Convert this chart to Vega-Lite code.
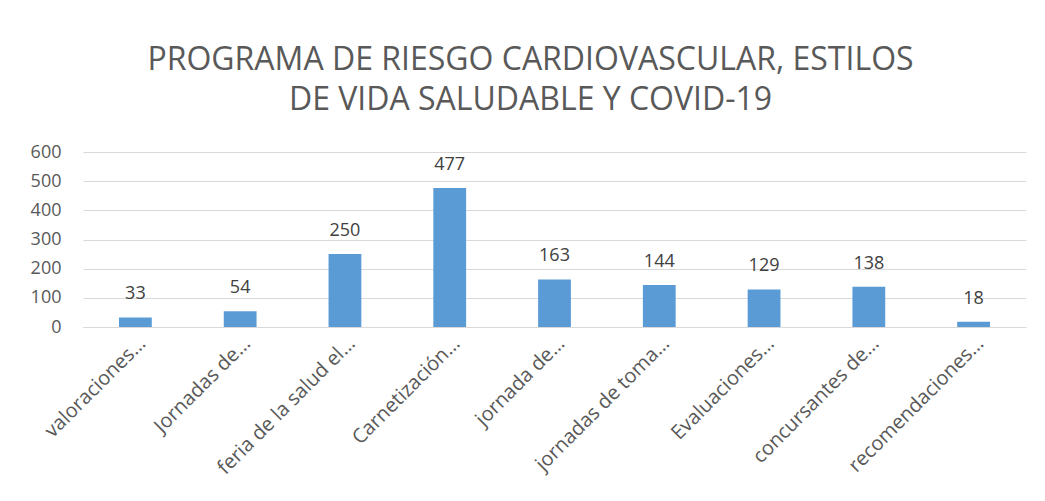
{
  "$schema": "https://vega.github.io/schema/vega-lite/v6.json",
  "width": 943,
  "height": 175,
  "autosize": {"type": "none"},
  "padding": {"left": 83, "top": 152, "right": 19, "bottom": 174},
  "background": "white",
  "title": {
    "text": ["PROGRAMA DE RIESGO CARDIOVASCULAR, ESTILOS", "DE VIDA SALUDABLE Y COVID-19"],
    "font": "Open Sans",
    "fontSize": 32,
    "fontWeight": "normal",
    "color": "#595959",
    "lineHeight": 40,
    "anchor": "middle",
    "dx": -24,
    "offset": 26
  },
  "data": {
    "values": [
      {"actividad": "valoraciones…", "valor": 33},
      {"actividad": "Jornadas de…", "valor": 54},
      {"actividad": "feria de la salud el…", "valor": 250},
      {"actividad": "Carnetización…", "valor": 477},
      {"actividad": "jornada de…", "valor": 163},
      {"actividad": "jornadas de toma…", "valor": 144},
      {"actividad": "Evaluaciones…", "valor": 129},
      {"actividad": "concursantes de…", "valor": 138},
      {"actividad": "recomendaciones…", "valor": 18}
    ]
  },
  "encoding": {
    "x": {
      "field": "actividad",
      "type": "nominal",
      "sort": null,
      "scale": {"paddingInner": 0.687, "paddingOuter": 0.3435},
      "axis": {
        "title": null,
        "labelAngle": -45,
        "labelAlign": "right",
        "labelBaseline": "middle",
        "labelFont": "Open Sans",
        "labelFontSize": 20,
        "labelColor": "#595959",
        "labelOffset": 7,
        "labelPadding": 13,
        "labelLimit": 300,
        "ticks": false,
        "domain": true,
        "domainColor": "#d9d9d9",
        "domainWidth": 1,
        "grid": false
      }
    },
    "y": {
      "field": "valor",
      "type": "quantitative",
      "scale": {"domain": [0, 600], "nice": false},
      "axis": {
        "title": null,
        "values": [0, 100, 200, 300, 400, 500, 600],
        "labelFont": "Open Sans",
        "labelFontSize": 18,
        "labelColor": "#595959",
        "labelPadding": 22,
        "ticks": false,
        "domain": false,
        "grid": true,
        "gridColor": "#d9d9d9",
        "gridWidth": 1
      }
    }
  },
  "layer": [
    {"mark": {"type": "bar", "color": "#5b9bd5"}},
    {
      "mark": {
        "type": "text",
        "font": "Open Sans",
        "fontSize": 18,
        "color": "#404040",
        "baseline": "alphabetic",
        "dy": -18
      },
      "encoding": {"text": {"field": "valor", "type": "quantitative"}}
    }
  ],
  "config": {"view": {"stroke": null}}
}
